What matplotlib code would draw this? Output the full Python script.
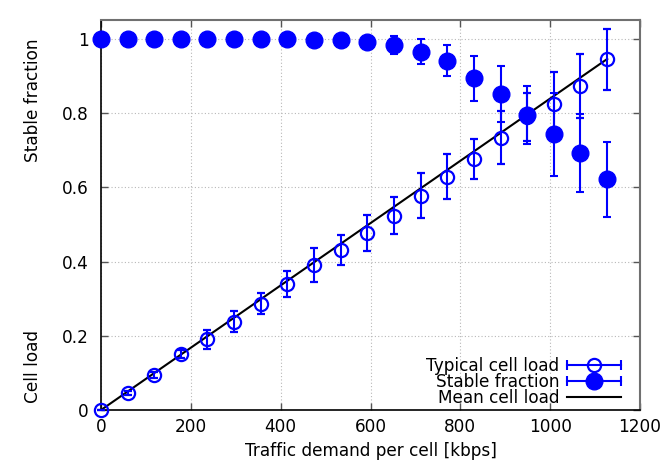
import matplotlib
matplotlib.use("Agg")
import matplotlib.pyplot as plt
from matplotlib.lines import Line2D
from matplotlib.legend_handler import HandlerBase

# ---- data ----
demand = [0, 59, 119, 178, 237, 297, 356, 415, 474, 534,
          593, 652, 712, 771, 830, 890, 949, 1008, 1067, 1127]
cell_load = [0.0, 0.045, 0.094, 0.151, 0.190, 0.238, 0.286, 0.340, 0.391, 0.431,
             0.477, 0.524, 0.578, 0.629, 0.677, 0.734, 0.790, 0.825, 0.873, 0.945]
cell_load_err = [0.0, 0.005, 0.008, 0.010, 0.025, 0.028, 0.028, 0.035, 0.045, 0.040,
                 0.048, 0.050, 0.060, 0.060, 0.054, 0.072, 0.065, 0.085, 0.087, 0.082]
stable = [1.0, 1.0, 1.0, 1.0, 1.0, 1.0, 1.0, 1.0, 0.997, 0.996,
          0.992, 0.984, 0.966, 0.941, 0.894, 0.852, 0.795, 0.743, 0.692, 0.622]
stable_err = [0.0, 0.0, 0.0, 0.0, 0.0, 0.0, 0.0, 0.0, 0.003, 0.004,
              0.008, 0.025, 0.033, 0.042, 0.060, 0.075, 0.077, 0.112, 0.105, 0.101]
mean_x = [0, 1127]
mean_load = [0.0, 0.946]

xticks = [0, 200, 400, 600, 800, 1000, 1200]
yticks = [0, 0.2, 0.4, 0.6, 0.8, 1]
ytick_labels = ["0", "0.2", "0.4", "0.6", "0.8", "1"]

FS = 12.2
plt.rcParams['font.family'] = ['DejaVu Sans']
plt.rcParams['font.size'] = FS

fig = plt.figure(figsize=(6.64, 4.65), dpi=100)
ax = fig.add_axes([101/664, 55/465, (640-101)/664, (410-20)/465])

BLUE = '#0000ff'

ax.plot(mean_x, mean_load, color='black', lw=1.5, zorder=2)

ax.errorbar(demand, stable, yerr=stable_err, fmt='o', color=BLUE, ms=12,
            mec=BLUE, mfc=BLUE, elinewidth=1.5, capsize=3, capthick=1.5,
            zorder=3, clip_on=False)
ax.errorbar(demand, cell_load, yerr=cell_load_err, fmt='o', color=BLUE, ms=9.5,
            mec=BLUE, mfc='none', mew=1.6, elinewidth=1.5, capsize=3, capthick=1.5,
            zorder=4, clip_on=False)

ax.set_xlim(0, 1200)
ax.set_ylim(0, 1.051)
ax.set_xticks(xticks)
ax.set_yticks(yticks)
ax.set_yticklabels(ytick_labels)
ax.grid(True, color='#b8b8b8', linestyle=(0, (1, 2)), linewidth=0.8)
ax.set_axisbelow(True)
ax.tick_params(direction='in', top=True, right=True, length=5, width=1,
               color='#555555', labelsize=FS)
ax.tick_params(axis='y', pad=9)
ax.tick_params(axis='x', pad=6)
for side in ['left', 'bottom']:
    ax.spines[side].set_color('black')
    ax.spines[side].set_linewidth(1.2)
for side in ['top', 'right']:
    ax.spines[side].set_color('#707070')
    ax.spines[side].set_linewidth(1.5)

ax.set_xlabel("Traffic demand per cell [kbps]", fontsize=FS, labelpad=4)
fig.text(33/664, 1 - 100/465, "Stable fraction", rotation=90, ha='center', va='center', fontsize=FS)
fig.text(33/664, 1 - 366/465, "Cell load", rotation=90, ha='center', va='center', fontsize=FS)


class HErrHandler(HandlerBase):
    def __init__(self, mfc, ms, mew):
        super().__init__()
        self.mfc = mfc
        self.ms = ms
        self.mew = mew

    def create_artists(self, legend, orig_handle, xdescent, ydescent, width, height, fontsize, trans):
        y = height / 2 - ydescent
        x0, x1 = -xdescent, width - xdescent
        bar = Line2D([x0, x1], [y, y], color=BLUE, lw=1.5, transform=trans)
        caps = Line2D([x0, x1], [y, y], ls='none', marker='|', ms=7, mew=1.5, color=BLUE, transform=trans)
        mk = Line2D([(x0 + x1) / 2], [y], ls='none', marker='o', ms=self.ms, mfc=self.mfc,
                    mec=BLUE, mew=self.mew, transform=trans)
        return [bar, caps, mk]


h1 = Line2D([], [], label='Typical cell load')
h2 = Line2D([], [], label='Stable fraction')
h3 = Line2D([], [], color='black', lw=1.5, label='Mean cell load')
leg = ax.legend(handles=[h1, h2, h3], loc='lower right', frameon=False, markerfirst=False,
                handlelength=3.2, labelspacing=-0.12, handletextpad=0.45,
                borderaxespad=0.0, borderpad=0.0, fontsize=FS,
                bbox_to_anchor=(621/664, 1 - 407/465), bbox_transform=fig.transFigure,
                handler_map={h1: HErrHandler('none', 9.5, 1.6), h2: HErrHandler(BLUE, 12, 1.0)})

fig.savefig("out.png", dpi=100)
